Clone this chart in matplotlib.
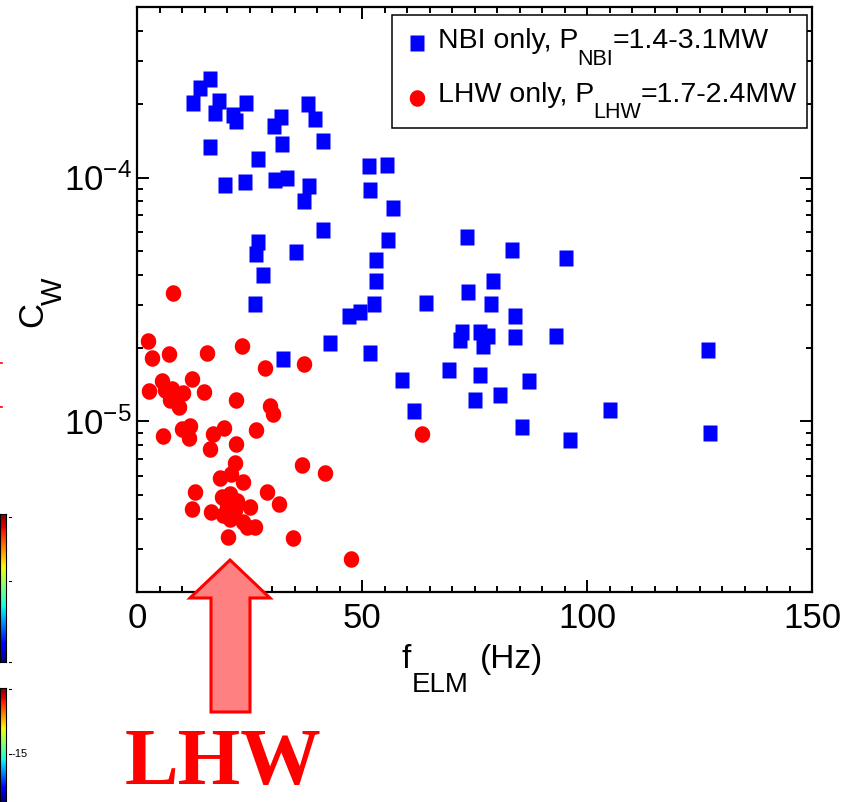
import numpy as np
import matplotlib
matplotlib.use("Agg")
import matplotlib.pyplot as plt
from matplotlib import font_manager as fm
from matplotlib.lines import Line2D
from matplotlib.patches import Polygon, Rectangle
from matplotlib.ticker import LogLocator, MultipleLocator, FuncFormatter, NullFormatter
import matplotlib.transforms as mtransforms

# ---------------- data ----------------
nbi_f = [12.5, 14.0, 16.2, 18.2, 17.3, 16.2, 21.3, 22.0, 24.2, 19.6, 24.0, 26.8,
         30.5, 32.0, 32.2, 30.7, 33.4, 37.9, 39.6, 41.3, 38.3, 37.1, 41.4, 26.8,
         26.4, 28.0, 35.3, 26.2, 51.5, 55.6, 51.8, 56.9, 55.8, 53.1, 53.0, 73.3,
         73.5, 52.6, 64.3, 83.3, 95.3, 79.0, 78.7, 84.1, 72.2, 71.8, 76.3, 78.0,
         76.8, 84.1, 93.1, 126.9, 69.3, 76.3, 87.0, 80.6, 75.0, 105.2, 85.5, 96.2,
         127.3, 61.6, 47.0, 49.5, 42.8, 32.5, 51.8, 58.8]
nbi_cw = [2.02e-4, 2.33e-4, 2.53e-4, 2.05e-4, 1.84e-4, 1.34e-4, 1.81e-4, 1.70e-4,
          2.02e-4, 9.33e-5, 9.57e-5, 1.19e-4, 1.62e-4, 1.77e-4, 1.37e-4, 9.81e-5,
          1.00e-4, 2.00e-4, 1.73e-4, 1.41e-4, 9.19e-5, 8.05e-5, 6.07e-5, 5.43e-5,
          4.87e-5, 4.00e-5, 4.94e-5, 3.04e-5, 1.11e-4, 1.13e-4, 8.93e-5, 7.51e-5,
          5.55e-5, 4.57e-5, 3.76e-5, 5.73e-5, 3.41e-5, 3.02e-5, 3.05e-5, 5.04e-5,
          4.70e-5, 3.76e-5, 3.02e-5, 2.70e-5, 2.32e-5, 2.16e-5, 2.32e-5, 2.25e-5,
          2.03e-5, 2.23e-5, 2.25e-5, 1.97e-5, 1.62e-5, 1.55e-5, 1.47e-5, 1.28e-5,
          1.22e-5, 1.11e-5, 9.48e-6, 8.36e-6, 9.01e-6, 1.10e-5, 2.70e-5, 2.81e-5,
          2.10e-5, 1.81e-5, 1.91e-5, 1.48e-5]

lhw_f = [8.1, 2.5, 3.4, 7.0, 15.5, 23.3, 28.4, 37.0, 5.5, 2.7, 7.7, 10.3, 12.3,
         14.9, 7.3, 9.4, 6.2, 21.9, 29.6, 30.3, 5.7, 9.9, 11.8, 11.6, 16.8, 19.3,
         16.2, 21.9, 26.4, 63.3, 21.8, 36.6, 41.7, 18.4, 20.8, 23.6, 12.9, 28.8,
         31.6, 25.1, 12.3, 16.4, 18.8, 20.7, 22.2, 19.9, 21.8, 19.2, 20.7, 23.6,
         26.2, 24.4, 20.3, 34.6, 47.5]
lhw_cw = [3.36e-5, 2.13e-5, 1.82e-5, 1.89e-5, 1.91e-5, 2.04e-5, 1.65e-5, 1.72e-5,
          1.47e-5, 1.33e-5, 1.36e-5, 1.31e-5, 1.50e-5, 1.32e-5, 1.22e-5, 1.15e-5,
          1.34e-5, 1.23e-5, 1.16e-5, 1.07e-5, 8.68e-6, 9.33e-6, 9.54e-6, 8.57e-6,
          8.85e-6, 9.42e-6, 7.73e-6, 8.05e-6, 9.19e-6, 8.85e-6, 6.75e-6, 6.65e-6,
          6.14e-6, 5.88e-6, 6.07e-6, 5.64e-6, 5.16e-6, 5.13e-6, 4.57e-6, 4.48e-6,
          4.36e-6, 4.25e-6, 4.90e-6, 5.05e-6, 4.74e-6, 4.45e-6, 4.32e-6, 4.12e-6,
          3.99e-6, 3.87e-6, 3.69e-6, 3.69e-6, 3.36e-6, 3.34e-6, 2.74e-6]

x_ticks = [0, 50, 100, 150]
y_tick_exps = [-5, -4]
legend_nbi = ("NBI only, P", "NBI", "=1.4-3.1MW")
legend_lhw = ("LHW only, P", "LHW", "=1.7-2.4MW")
xlabel_parts = ("f", "ELM", "(Hz)")
ylabel_parts = ("C", "W")
arrow_text = "LHW"

# ---------------- fonts ----------------
names = {f.name for f in fm.fontManager.ttflist}
SANS = "Liberation Sans" if "Liberation Sans" in names else "DejaVu Sans"
NARROW = "Liberation Sans Narrow" if "Liberation Sans Narrow" in names else None
SERIF = "Liberation Serif" if "Liberation Serif" in names else "DejaVu Serif"
plt.rcParams["font.family"] = [SANS, "DejaVu Sans"]
plt.rcParams["axes.unicode_minus"] = False
TICKFONT = NARROW if NARROW else SANS
TICKSIZE = 28 if NARROW else 25
plt.rcParams["mathtext.fontset"] = "custom"
plt.rcParams["mathtext.rm"] = TICKFONT
plt.rcParams["mathtext.it"] = TICKFONT
plt.rcParams["mathtext.bf"] = TICKFONT

W, H = 846, 802
fig = plt.figure(figsize=(W / 100, H / 100), dpi=100)
renderer = fig.canvas.get_renderer()
ID = mtransforms.IdentityTransform()


def fx(x):
    return x / W


def fy(y):
    return 1 - y / H


# ---------------- main axes ----------------
L, R, T, B = 137, 812, 7, 592
ax = fig.add_axes([fx(L), fy(B), (R - L) / W, (B - T) / H])
ax.set_xlim(0, 150)
ax.set_yscale("log")
ax.set_ylim(2e-6, 5e-4)

# marker shapes (slightly taller than wide, as in the picture)
sq_r = 13 / 15
sq_verts = [(-sq_r, -1), (sq_r, -1), (sq_r, 1), (-sq_r, 1), (-sq_r, -1)]
tt = np.linspace(0, 2 * np.pi, 61)
el_r = 14.5 / 15.5
el_verts = list(zip(el_r * np.cos(tt), np.sin(tt)))
SQ_MS, EL_MS = 11.4, 11.9

ax.plot(nbi_f, nbi_cw, linestyle="none", marker=sq_verts, ms=SQ_MS,
        mfc="#0000ff", mec="none", zorder=3)
ax.plot(lhw_f, lhw_cw, linestyle="none", marker=el_verts, ms=EL_MS,
        mfc="#ff0000", mec="none", zorder=3)

for s in ax.spines.values():
    s.set_linewidth(1.6)
ax.xaxis.set_major_locator(plt.FixedLocator(x_ticks))
ax.xaxis.set_minor_locator(MultipleLocator(5))
ax.yaxis.set_major_locator(plt.FixedLocator([10.0 ** e for e in y_tick_exps]))
ax.yaxis.set_minor_locator(LogLocator(base=10, subs=np.arange(2, 10), numticks=20))
ax.yaxis.set_minor_formatter(NullFormatter())
ax.yaxis.set_major_formatter(
    FuncFormatter(lambda v, p: r"$\mathregular{10^{%d}}$" % int(round(np.log10(v)))))
ax.tick_params(which="both", direction="in", top=True, right=True, width=1.4,
               colors="black")
ax.tick_params(which="major", length=8.5)
ax.tick_params(which="minor", length=4.3)
ax.tick_params(axis="x", pad=7)
ax.tick_params(axis="y", pad=4)
for lab in ax.get_xticklabels() + ax.get_yticklabels():
    lab.set_fontfamily(TICKFONT)
    lab.set_fontsize(TICKSIZE)


# ---------------- helper for labels with low-set subscripts ----------------
def chain(x0, y0, parts, rotation=0, family=SANS, color="black"):
    """parts: (text, size_pt, drop_px, gap_px); x0,y0 are top-origin pixels."""
    x, y = x0, H - y0
    for s, size, drop, gap in parts:
        if rotation == 0:
            x += gap
            t = fig.text(x, y - drop, s, fontsize=size, ha="left", va="baseline",
                         transform=ID, family=family, color=color)
            x = t.get_window_extent(renderer).x1
        else:
            y += gap
            t = fig.text(x + drop, y, s, fontsize=size, rotation=90,
                         rotation_mode="anchor", ha="left", va="baseline",
                         transform=ID, family=family, color=color)
            y = t.get_window_extent(renderer).y1


# x label
chain(402, 668, [(xlabel_parts[0], 24, 0, 0), (xlabel_parts[1], 20, 24, 0),
                 (xlabel_parts[2], 24, 0, 12)])
# y label
chain(42, 327, [(ylabel_parts[0], 25, 0, 0), (ylabel_parts[1], 21, 20, -3)],
      rotation=90)

# ---------------- legend ----------------
fig.add_artist(Rectangle((fx(392), fy(128)), (807 - 392) / W, (128 - 15) / H,
                         transform=fig.transFigure, fill=True, fc="white",
                         ec="black", lw=1.1, zorder=5))
fig.add_artist(Line2D([fx(417)], [fy(43)], transform=fig.transFigure,
                      marker=sq_verts, ms=SQ_MS, mfc="#0000ff", mec="none",
                      linestyle="none", zorder=6))
fig.add_artist(Line2D([fx(417)], [fy(98)], transform=fig.transFigure,
                      marker=el_verts, ms=EL_MS, mfc="#ff0000", mec="none",
                      linestyle="none", zorder=6))
chain(438, 48, [(legend_nbi[0], 20.5, 0, 0), (legend_nbi[1], 15.5, 17, -1),
                (legend_nbi[2], 20.5, 0, 0)])
chain(438, 102, [(legend_lhw[0], 20.5, 0, 0), (legend_lhw[1], 15.5, 16, -1),
                 (legend_lhw[2], 20.5, 0, 0)])
for t in fig.texts:
    t.set_zorder(7)

# ---------------- big arrow and LHW label ----------------
arrow_pts = [(230, 560), (270, 598), (250, 598), (250, 712), (211, 712),
             (211, 598), (190, 598)]
fig.add_artist(Polygon([(fx(x), fy(y)) for x, y in arrow_pts], closed=True,
                       transform=fig.transFigure, fc="#ff8080", ec="#ff0000",
                       lw=2.2, zorder=8))
fig.text(fx(125), 1.0 / H, arrow_text, fontsize=58, fontweight="bold",
         family=SERIF, color="#ff0000", ha="left", va="bottom")

# ---------------- fragments of neighbouring colour bars ----------------
grad = np.linspace(0, 1, 256).reshape(-1, 1)
cb1 = fig.add_axes([0, fy(662), 6 / W, (662 - 514) / H])
cb1.imshow(grad, aspect="auto", cmap="jet", origin="lower")
cb1.set_xticks([])
cb1.set_yticks([])
for s in cb1.spines.values():
    s.set_linewidth(0.8)
cb2 = fig.add_axes([0, 0, 6 / W, (802 - 688) / H])
cb2.imshow(grad, aspect="auto", cmap="jet", origin="lower", extent=(0, 1, -0.6, 1))
cb2.set_xticks([])
cb2.set_yticks([])
for s in cb2.spines.values():
    s.set_linewidth(0.8)
for yy in (517, 581, 662, 689, 754):
    fig.add_artist(Line2D([fx(9), fx(11)], [fy(yy), fy(yy)], color="black",
                          lw=0.8, transform=fig.transFigure))
fig.text(fx(11), fy(754), "-15", fontsize=8, va="center", ha="left",
         family=TICKFONT)
for yy in (363, 407):
    fig.add_artist(Line2D([0, fx(2)], [fy(yy), fy(yy)], color="#ff0000",
                          lw=1.2, transform=fig.transFigure))

fig.savefig("out.png", dpi=100)
